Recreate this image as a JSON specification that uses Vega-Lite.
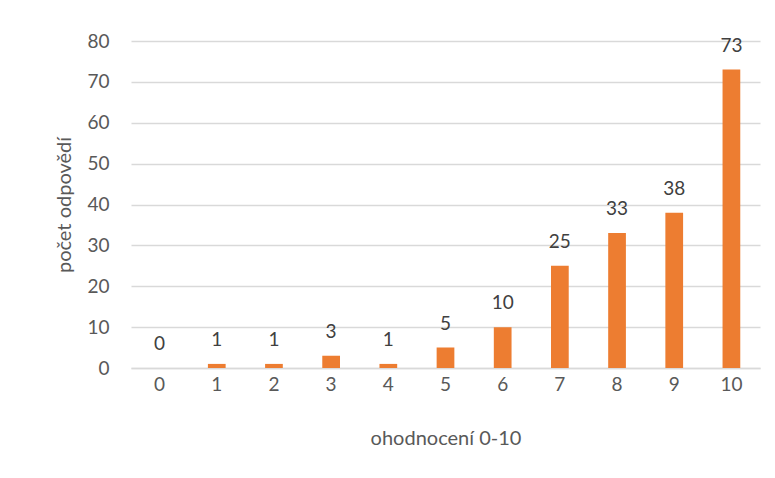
{
  "$schema": "https://vega.github.io/schema/vega-lite/v6.json",
  "width": 629,
  "height": 327,
  "autosize": "none",
  "padding": {"left": 131, "top": 41, "right": 15, "bottom": 110},
  "background": "white",
  "config": {
    "view": {"stroke": null},
    "font": "Lato",
    "axis": {"labelFont": "Lato", "titleFont": "Lato", "labelColor": "#595959", "titleColor": "#595959", "labelFontSize": 19, "titleFontSize": 20, "titleFontWeight": "normal"}
  },
  "data": {
    "values": [
      {"hodnoceni": "0", "pocet": 0},
      {"hodnoceni": "1", "pocet": 1},
      {"hodnoceni": "2", "pocet": 1},
      {"hodnoceni": "3", "pocet": 3},
      {"hodnoceni": "4", "pocet": 1},
      {"hodnoceni": "5", "pocet": 5},
      {"hodnoceni": "6", "pocet": 10},
      {"hodnoceni": "7", "pocet": 25},
      {"hodnoceni": "8", "pocet": 33},
      {"hodnoceni": "9", "pocet": 38},
      {"hodnoceni": "10", "pocet": 73}
    ]
  },
  "encoding": {
    "x": {
      "field": "hodnoceni",
      "type": "ordinal",
      "sort": null,
      "scale": {"paddingInner": 0.69, "paddingOuter": 0.345},
      "axis": {"title": "ohodnocení  0-10", "labelAngle": 0, "ticks": false, "domainColor": "#d9d9d9", "domainWidth": 1.3, "labelPadding": 7, "titlePadding": 34}
    },
    "y": {
      "field": "pocet",
      "type": "quantitative",
      "scale": {"domain": [0, 80], "nice": false},
      "axis": {"title": "počet odpovědí", "values": [0, 10, 20, 30, 40, 50, 60, 70, 80], "domain": false, "ticks": false, "gridColor": "#d9d9d9", "gridWidth": 1.3, "labelPadding": 22, "titlePadding": 12}
    }
  },
  "layer": [
    {"mark": {"type": "bar", "color": "#ED7D31"}},
    {
      "mark": {"type": "text", "baseline": "bottom", "dy": -14, "fontSize": 19, "color": "#404040", "font": "Lato"},
      "encoding": {"text": {"field": "pocet", "type": "quantitative"}}
    }
  ]
}
